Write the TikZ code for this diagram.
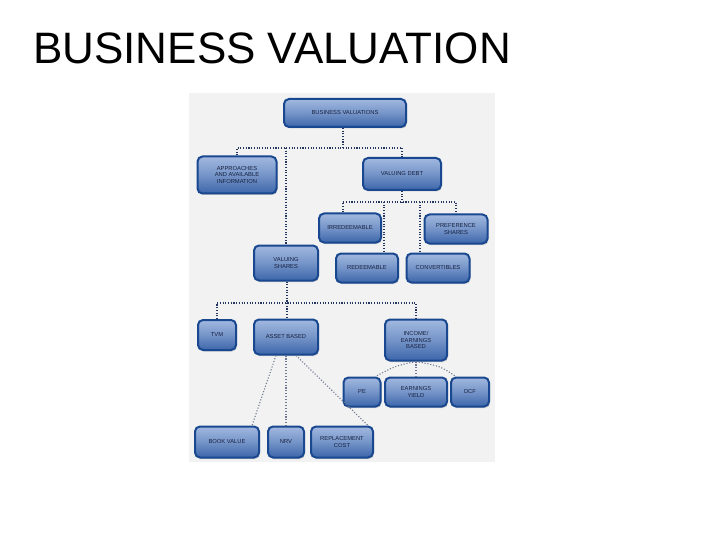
\documentclass[tikz,border=0pt]{standalone}
\usepackage{fontspec}
\setmainfont{Liberation Sans}
\usetikzlibrary{shadows}
\definecolor{panel}{HTML}{F2F2F2}
\definecolor{boxline}{HTML}{1A4890}
\definecolor{boxtop}{HTML}{A2B9E0}
\definecolor{boxbot}{HTML}{3D66AA}
\definecolor{boxtext}{HTML}{18223F}
\definecolor{dotc}{HTML}{25365E}
\definecolor{dotl}{HTML}{6F7890}
\tikzset{
  box/.style={draw=boxline, line width=2pt, rounded corners=5pt,
    top color=boxtop, bottom color=boxbot, middle color=boxtop!55!boxbot,
    text=boxtext, font=\fontsize{5.8}{6.4}\selectfont, align=center,
    inner sep=1pt,
    drop shadow={shadow xshift=1pt, shadow yshift=-1.5pt, opacity=0.35}},
  link/.style={dotc, line width=1.1pt, dash pattern=on 1.1pt off 1.6pt},
  lightlink/.style={dotl, line width=1.1pt, dash pattern=on 1.1pt off 1.8pt},
}
\begin{document}
\begin{tikzpicture}[x=1pt,y=-1pt]
\useasboundingbox (0,0) rectangle (720,540);
\node[anchor=base west, font=\fontsize{44}{44}\selectfont, inner sep=0pt] (title) at (33,64) {BUSINESS VALUATION};
\fill[panel] (189,93) rectangle (495,462);
% nodes
\node[box, minimum width=122pt, minimum height=28pt] (bv) at (345,113) {BUSINESS VALUATIONS};
\node[box, minimum width=79pt, minimum height=37pt] (ap) at (237,175) {APPROACHES\\AND AVAILABLE\\INFORMATION};
\node[box, minimum width=78pt, minimum height=32pt] (vd) at (402,174) {VALUING DEBT};
\node[box, minimum width=62pt, minimum height=29pt] (ir) at (350,228) {IRREDEEMABLE};
\node[box, minimum width=63pt, minimum height=29pt] (ps) at (456,229) {PREFERENCE\\SHARES};
\node[box, minimum width=64pt, minimum height=35pt] (vs) at (286,263) {VALUING\\SHARES};
\node[box, minimum width=62pt, minimum height=29pt] (re) at (367,268) {REDEEMABLE};
\node[box, minimum width=63pt, minimum height=29pt] (cv) at (438,268) {CONVERTIBLES};
\node[box, minimum width=38pt, minimum height=30pt] (tvm) at (217,335) {TVM};
\node[box, minimum width=64pt, minimum height=35pt] (ab) at (286,337) {ASSET BASED};
\node[box, minimum width=62pt, minimum height=41pt] (ie) at (416,340) {INCOME/\\EARNINGS\\BASED};
\node[box, minimum width=37pt, minimum height=29pt] (pe) at (362,392) {PE};
\node[box, minimum width=62pt, minimum height=29pt] (ey) at (416,392) {EARNINGS\\YIELD};
\node[box, minimum width=38pt, minimum height=29pt] (dcf) at (470,392) {DCF};
\node[box, minimum width=64pt, minimum height=31pt] (bk) at (227,442) {BOOK VALUE};
\node[box, minimum width=36pt, minimum height=31pt] (nrv) at (286,442) {NRV};
\node[box, minimum width=62pt, minimum height=31pt] (rc) at (342,442) {REPLACEMENT\\COST};
% connectors
\coordinate (j1) at (343,148);
\draw[link] (bv.south -| j1) -- (j1);
\draw[link] (ap.north) |- (j1) -| (vd.north);
\draw[link] (vs.north |- j1) -- (vs.north);
\coordinate (j2) at (402,202);
\draw[link] (vd.south) -- (j2);
\draw[link] (ir.north -| 343,0) |- (j2) -| (ps.north);
\draw[link] (384,202) -- (re.north -| 384,0);
\draw[link] (420,202) -- (cv.north -| 420,0);
\coordinate (j3) at (287,303);
\draw[link] (vs.south -| j3) -- (j3);
\draw[link] (tvm.north) |- (j3) -| (ie.north);
\draw[link] (j3) -- (ab.north -| j3);
% asset based fan
\draw[lightlink] ([xshift=-10pt]ab.south) -- ([xshift=-8pt]bk.north east);
\draw[lightlink] (ab.south) -- (nrv.north);
\draw[lightlink] ([xshift=10pt]ab.south) -- ([xshift=-6pt]rc.north east);
% income fan
\draw[lightlink] (ie.south) .. controls (395,366) .. ([xshift=-6pt]pe.north east);
\draw[lightlink] (ie.south) -- (ey.north);
\draw[lightlink] (ie.south) .. controls (440,366) .. ([xshift=6pt]dcf.north west);
\end{tikzpicture}
\end{document}
